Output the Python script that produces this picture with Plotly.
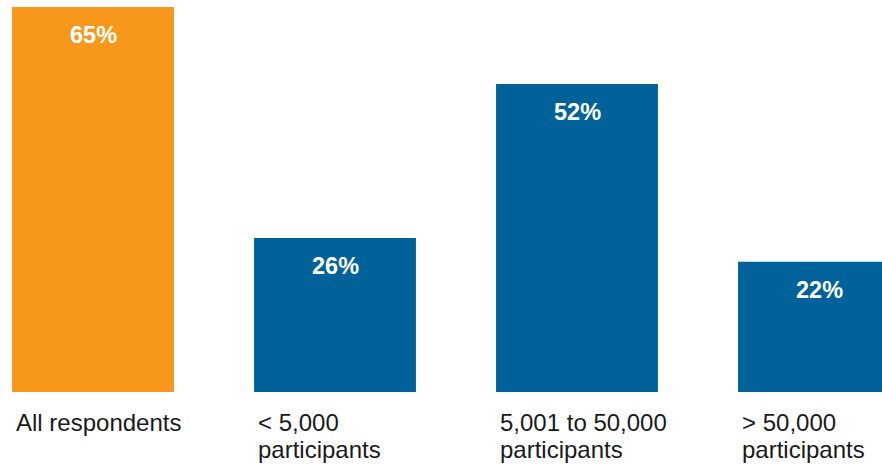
import plotly.graph_objects as go

categories = ["All respondents", "< 5,000\nparticipants", "5,001 to 50,000\nparticipants", "> 50,000\nparticipants"]
values = [65, 26, 52, 22]
colors = ["#F7981D", "#006299", "#006299", "#006299"]

x = list(range(len(categories)))
fig = go.Figure(go.Bar(x=x, y=values, marker=dict(color=colors, line=dict(width=0)),
                       width=0.669, hoverinfo="skip"))

annotations = []
for xi, v in zip(x, values):
    annotations.append(dict(x=xi, y=v, xref="x", yref="y", text=f"<b>{v}%</b>",
                            showarrow=False, yanchor="middle", yshift=-28,
                            font=dict(family="Liberation Sans, Arial", size=23.5, color="white")))
for xi, cat in zip(x, categories):
    for j, line in enumerate(cat.split("\n")):
        annotations.append(dict(x=xi - 0.3345, y=0, xref="x", yref="y", text=line,
                                showarrow=False, xanchor="left", yanchor="middle",
                                xshift=2, yshift=-30 - 27 * j,
                                font=dict(family="Liberation Sans, Arial", size=24, color="#1a1a1a")))

fig.update_layout(
    width=882, height=465,
    margin=dict(l=0, r=0, t=0, b=73, pad=0),
    paper_bgcolor="white", plot_bgcolor="white",
    showlegend=False,
    annotations=annotations,
    xaxis=dict(range=[-0.3843, 3.2603], visible=False, fixedrange=True),
    yaxis=dict(range=[0, 66.18], visible=False, fixedrange=True),
)
fig.write_html("out.html", config={"displayModeBar": False},
               post_script="document.body.style.margin='0';document.body.style.overflow='hidden';")
